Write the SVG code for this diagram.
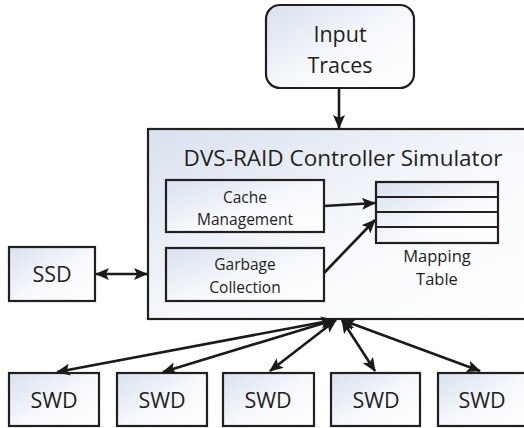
<svg xmlns="http://www.w3.org/2000/svg" width="524" height="428" viewBox="0 0 524 428">
<defs>
<linearGradient id="g" x1="0" y1="0" x2="1" y2="1">
<stop offset="0" stop-color="#d8e1ee"/>
<stop offset="0.55" stop-color="#f7f9fc"/>
<stop offset="1" stop-color="#ffffff"/>
</linearGradient>
<marker id="ah" markerUnits="userSpaceOnUse" markerWidth="14" markerHeight="12" refX="13" refY="6" orient="auto-start-reverse" viewBox="0 0 14 12">
<path d="M0,0 L14,6 L0,12 L3,6 z" fill="#1a1a1a"/>
</marker>
<style>
.box{fill:url(#g);stroke:#231f20;stroke-width:2.2}
.t{font-family:"Open Sans","Liberation Sans",sans-serif;fill:#231f20;text-anchor:middle}
.big{font-size:21.5px}
.sm{font-size:15.5px}
.c{stroke:#1a1a1a;stroke-width:2.6;fill:none}
.one{marker-end:url(#ah)}
.two{marker-start:url(#ah);marker-end:url(#ah)}
</style>
</defs>
<g id="input">
<rect class="box" x="266" y="5" width="148" height="83" rx="14"/>
<text class="t big" x="340" y="42">Input</text>
<text class="t big" x="340" y="73">Traces</text>
</g>
<g id="controller">
<rect class="box" x="148" y="129" width="385" height="190"/>
<text class="t" x="343" y="166" font-size="22.5">DVS-RAID Controller Simulator</text>
</g>
<g id="cache">
<rect class="box" x="166" y="180" width="158" height="52"/>
<text class="t sm" x="245" y="203">Cache</text>
<text class="t sm" x="245" y="225">Management</text>
</g>
<g id="garbage">
<rect class="box" x="166" y="248" width="158" height="53"/>
<text class="t sm" x="245" y="270">Garbage</text>
<text class="t sm" x="245" y="293">Collection</text>
</g>
<g id="mapping">
<rect class="box" x="376" y="182" width="122" height="61"/>
<line x1="376" y1="197" x2="498" y2="197" stroke="#231f20" stroke-width="2.2"/>
<line x1="376" y1="212" x2="498" y2="212" stroke="#231f20" stroke-width="2.2"/>
<line x1="376" y1="227" x2="498" y2="227" stroke="#231f20" stroke-width="2.2"/>
<text class="t" x="437" y="262" font-size="16.5">Mapping</text>
<text class="t" x="437" y="285" font-size="16.5">Table</text>
</g>
<g id="ssd">
<rect class="box" x="9" y="247" width="86" height="54"/>
<text class="t big" x="52" y="282">SSD</text>
</g>
<g id="swd1">
<rect class="box" x="9" y="373" width="90" height="53"/>
<text class="t big" x="54" y="408">SWD</text>
</g>
<g id="swd2">
<rect class="box" x="117" y="373" width="90" height="53"/>
<text class="t big" x="162" y="408">SWD</text>
</g>
<g id="swd3">
<rect class="box" x="223" y="373" width="91" height="53"/>
<text class="t big" x="268" y="408">SWD</text>
</g>
<g id="swd4">
<rect class="box" x="331" y="373" width="89" height="53"/>
<text class="t big" x="376" y="408">SWD</text>
</g>
<g id="swd5">
<rect class="box" x="438" y="373" width="92" height="53"/>
<text class="t big" x="482" y="408">SWD</text>
</g>
<g id="connectors">
<line class="c one" x1="339" y1="88" x2="339" y2="128"/>
<line class="c one" x1="324" y1="206" x2="375" y2="203"/>
<line class="c one" x1="324" y1="273" x2="375" y2="220"/>
<line class="c two" x1="96" y1="274" x2="147" y2="274"/>
<line class="c two" x1="57" y1="372" x2="334" y2="320"/>
<line class="c two" x1="163" y1="372" x2="334" y2="320"/>
<line class="c two" x1="270" y1="371" x2="336" y2="320"/>
<line class="c two" x1="375" y1="371" x2="342" y2="320"/>
<line class="c two" x1="480" y1="371" x2="342" y2="320"/>
</g>
</svg>
